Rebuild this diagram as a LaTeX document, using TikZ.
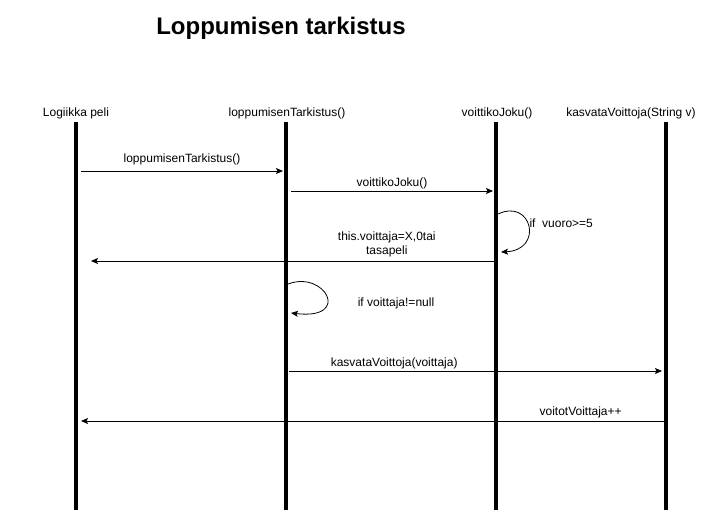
\documentclass[tikz,border=0pt]{standalone}
\usepackage{fontspec}
\setmainfont{Liberation Sans}
\usetikzlibrary{arrows.meta}
\usetikzlibrary{positioning}

\tikzset{
  lifeline/.style={line width=3.5pt},
  msg/.style={line width=0.8pt, -{Stealth[length=7pt,width=6pt,inset=1.5pt]}},
  lbl/.style={font=\fontsize{12}{14}\selectfont, align=center}
}

\begin{document}
\begin{tikzpicture}[x=1pt,y=-1pt]
	  \useasboundingbox (0,0) rectangle (703,515);
	  \node[font=\fontsize{24}{28}\selectfont\bfseries] (title) at (281,28) {Loppumisen tarkistus};
	  \node[lbl] (peli) at (76,113) {Logiikka peli};
	  \node[lbl] (tarkistus) at (287,113) {loppumisenTarkistus()};
	  \node[lbl] (joku) at (497,113) {voittikoJoku()};
	  \node[lbl] (kasvata) at (631,113) {kasvataVoittoja(String v)};
	  % lifelines
	  \coordinate (peliTop) at (76,122);
	  \coordinate (peliEnd) at (76,510);
	  \coordinate (tarkTop) at (286,122);
	  \coordinate (tarkEnd) at (286,510);
	  \coordinate (jokuTop) at (496,122);
	  \coordinate (jokuEnd) at (496,510);
	  \coordinate (kasvTop) at (666,122);
	  \coordinate (kasvEnd) at (666,510);
	  \draw[lifeline] (peliTop) -- (peliEnd);
	  \draw[lifeline] (tarkTop) -- (tarkEnd);
	  \draw[lifeline] (jokuTop) -- (jokuEnd);
	  \draw[lifeline] (kasvTop) -- (kasvEnd);
	  % message ends
	  \coordinate (m1a) at (81,171);
	  \coordinate (m1b) at (283,171);
	  \coordinate (m2a) at (291,191);
	  \coordinate (m2b) at (493,191);
	  \coordinate (s1a) at (498,214);
	  \coordinate (s1b) at (501,252);
	  \coordinate (m4a) at (494,261);
	  \coordinate (m4b) at (91,261);
	  \coordinate (s2a) at (288,284);
	  \coordinate (s2b) at (291,313);
	  \coordinate (m6a) at (289,371);
	  \coordinate (m6b) at (662,371);
	  \coordinate (m7a) at (664,421);
	  \coordinate (m7b) at (81,421);
	  \draw[msg] (m1a) -- node[lbl, above=2pt] {loppumisenTarkistus()} (m1b);
	  \draw[msg] (m2a) -- node[lbl, above=-2pt] {voittikoJoku()} (m2b);
	  \draw[msg] (s1a) .. controls (532,198) and (544,250) .. (s1b);
	  \node[lbl, anchor=west] (ehto1) at (526,223) {if\ \ vuoro>=5};
	  \draw[msg] (m4a) -- node[lbl, above=0pt, pos=0.266] {this.voittaja=X,0tai\\tasapeli} (m4b);
	  \draw[msg] (s2a) .. controls (325,270) and (352,320) .. (s2b);
	  \node[lbl] (ehto2) at (396,303) {if voittaja!=null};
	  \draw[msg] (m6a) -- node[lbl, above=-2pt, pos=0.282] {kasvataVoittoja(voittaja)} (m6b);
	  \draw[msg] (m7a) -- node[lbl, above=-1pt, pos=0.143] {voitotVoittaja++} (m7b);
	\end{tikzpicture}
\end{document}
